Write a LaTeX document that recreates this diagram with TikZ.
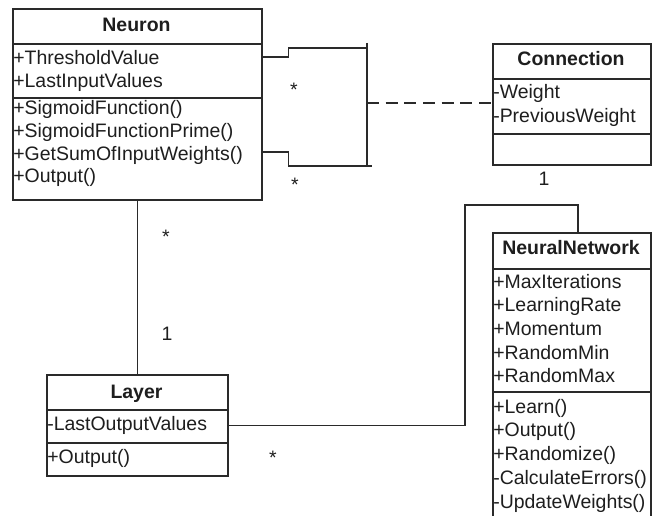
\documentclass[tikz,border=0pt]{standalone}
\usepackage{fontspec}
\setmainfont{Liberation Sans}
\usetikzlibrary{calc}
\definecolor{linec}{HTML}{2A2A2A}
\definecolor{textc}{HTML}{1E1E1E}
\newcommand\fsz{\fontsize{14.6pt}{17pt}\selectfont}
\tikzset{
  classbox/.style={draw=linec, line width=1.3pt, anchor=north west, inner sep=0pt},
  sepline/.style={draw=linec, line width=1.3pt},
  member/.style={anchor=base west, inner sep=0pt, font=\fsz, text=textc},
  ctitle/.style={anchor=base, inner sep=0pt, font=\fsz\bfseries, text=textc},
  mult/.style={anchor=base, inner sep=0pt, font=\fsz, text=textc},
  conn/.style={draw=linec, line width=1.1pt},
}
\begin{document}
\begin{tikzpicture}[x=0.75pt, y=-0.75pt]
\useasboundingbox (0,0) rectangle (652,516);
\clip (0,0) rectangle (652,516);
\fill[white] (0,0) rectangle (652,516);

% ---------- Neuron ----------
\node[classbox, minimum width=186.75pt, minimum height=143.25pt] (neuron) at (12,8) {};
\draw[sepline] (12,44) -- (261,44);
\draw[sepline] (12,98) -- (261,98);
\node[ctitle] (neuronT) at (136.5,32) {Neuron};
\node[member] (na1) at (13,65) {+ThresholdValue};
\node[member] (na2) at (13,87.5) {+LastInputValues};
\node[member] (nm1) at (13,115) {+SigmoidFunction()};
\node[member] (nm2) at (13,137.7) {+SigmoidFunctionPrime()};
\node[member] (nm3) at (13,160.4) {+GetSumOfInputWeights()};
\node[member] (nm4) at (13,183) {+Output()};

% ---------- Connection ----------
\node[classbox, minimum width=118.5pt, minimum height=90.75pt] (connection) at (492,43) {};
\draw[sepline] (492,79) -- (650,79);
\draw[sepline] (492,134) -- (650,134);
\node[ctitle] (connT) at (571,66) {Connection};
\node[member] (ca1) at (493,99) {-Weight};
\node[member] (ca2) at (493,123) {-PreviousWeight};

% ---------- NeuralNetwork ----------
\node[classbox, minimum width=118.5pt, minimum height=225pt] (nn) at (492,232) {};
\draw[sepline] (492,269) -- (650,269);
\draw[sepline] (492,392) -- (650,392);
\node[ctitle] (nnT) at (571,255) {NeuralNetwork};
\node[member] (nna1) at (493,288) {+MaxIterations};
\node[member] (nna2) at (493,311.7) {+LearningRate};
\node[member] (nna3) at (493,335.4) {+Momentum};
\node[member] (nna4) at (493,359.1) {+RandomMin};
\node[member] (nna5) at (493,382.8) {+RandomMax};
\node[member] (nnm1) at (493,413) {+Learn()};
\node[member] (nnm2) at (493,436.8) {+Output()};
\node[member] (nnm3) at (493,460.6) {+Randomize()};
\node[member] (nnm4) at (493,484.4) {-CalculateErrors()};
\node[member] (nnm5) at (493,508.2) {-UpdateWeights()};

% ---------- Layer ----------
\node[classbox, minimum width=135.75pt, minimum height=75.75pt] (layer) at (46,374) {};
\draw[sepline] (46,410) -- (227,410);
\draw[sepline] (46,443) -- (227,443);
\node[ctitle] (layerT) at (136.5,398) {Layer};
\node[member] (la1) at (47,430) {-LastOutputValues};
\node[member] (lm1) at (47,463) {+Output()};

% ---------- connectors ----------
\coordinate (barTop) at (367,43);
\coordinate (barBot) at (367,166);
\coordinate (barMid) at (367,103);
\coordinate (ta) at (367,48);
\coordinate (tb) at (372,166);
\coordinate (k1) at (465,205);

\draw[conn] (neuron.north east) ++(0,49) -- ++(26,0) |- (ta);
\draw[conn] (neuron.north east) ++(0,144) -- ++(26,0) |- (tb);
\draw[conn] (barTop) -- (barBot);
\draw[conn, dashed, dash pattern=on 9pt off 5pt] (barMid) -- (connection.west |- barMid);

\draw[conn] (neuron.south) -- (layer.north);
\draw[conn] (layer.east) -| (k1) -| ($(nn.north)+(6,0)$);

% ---------- multiplicities ----------
\node[mult] (m1) at (294,97) {*};
\node[mult] (m2) at (295,192) {*};
\node[mult] (m3) at (544,186) {1};
\node[mult] (m4) at (166,244) {*};
\node[mult] (m5) at (167,340) {1};
\node[mult] (m6) at (273,464) {*};
\end{tikzpicture}
\end{document}
